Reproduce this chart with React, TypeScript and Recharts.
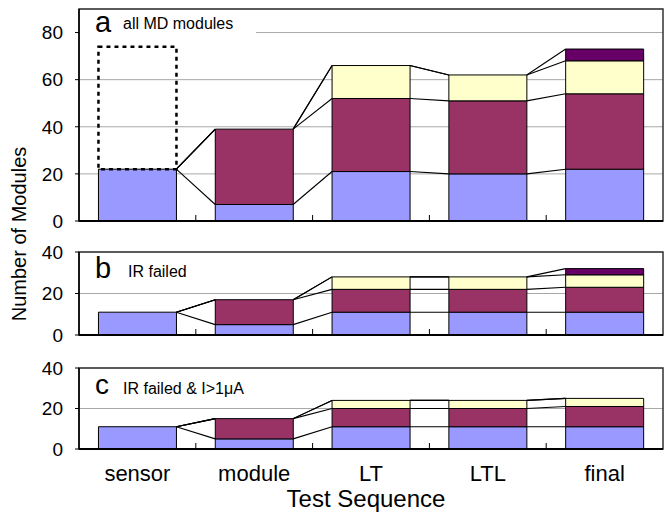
import React from 'react'
import { BarChart, Bar, XAxis, YAxis, CartesianGrid, ReferenceLine, ReferenceArea } from 'recharts'

const categories = ['sensor', 'module', 'LT', 'LTL', 'final']

// a: all MD modules
const allBlue = [22, 7, 21, 20, 22]
const allMaroon = [0, 32, 31, 31, 32]
const allYellow = [0, 0, 14, 11, 14]
const allPurple = [0, 0, 0, 0, 5]
const allPlanned = [52, 0, 0, 0, 0] // dotted box on top of sensor

// b: IR failed
const irBlue = [11, 5, 11, 11, 11]
const irMaroon = [0, 12, 11, 11, 12]
const irYellow = [0, 0, 6, 6, 6]
const irPurple = [0, 0, 0, 0, 3]

// c: IR failed & I>1uA
const curBlue = [11, 5, 11, 11, 11]
const curMaroon = [0, 10, 9, 9, 10]
const curYellow = [0, 0, 4, 4, 4]
const curPurple = [0, 0, 0, 0, 0]

const ticksA = [0, 20, 40, 60, 80]
const ticksBC = [0, 20, 40]

const COLORS = ['#9999FF', '#993366', '#FFFFCC', '#660066']
const FONT = '"Liberation Sans", Arial, Helvetica, sans-serif'
const W = 664
const GAP = 1 / 6 // bar gap on each side of a category, as a fraction of the band

interface PanelProps {
  top: number
  marginTop: number
  plotH: number
  series: number[][]
  planned?: number[]
  max: number
  ticks: number[]
  showLabels?: boolean
}

function Panel({ top, marginTop, plotH, series, planned, max, ticks, showLabels }: PanelProps) {
  const rows = categories.map((name, i) => {
    const row: Record<string, string | number> = { name, idx: i + 0.5 }
    series.forEach((s, k) => { row['s' + k] = s[i] })
    if (planned) row.planned = planned[i]
    return row
  })

  // running totals, used for the lines between neighbouring bars
  const cum = series.map((_, k) =>
    categories.map((_, i) => series.slice(0, k + 1).reduce((t, s) => t + s[i], 0))
  )
  const links: { key: string; x1: number; y1: number; x2: number; y2: number }[] = []
  cum.forEach((c, k) => {
    for (let i = 0; i < categories.length - 1; i++) {
      links.push({ key: `${k}-${i}`, x1: i + 1 - GAP, y1: c[i], x2: i + 1 + GAP, y2: c[i + 1] })
    }
  })

  const axisH = showLabels ? 60 : 2
  const bottom = showLabels ? 0 : 10
  const height = marginTop + plotH + axisH + bottom
  const tickLen = (max * 6) / plotH

  return (
    <div style={{ position: 'absolute', left: 0, top }}>
      <BarChart
        width={W}
        height={height}
        data={rows}
        margin={{ top: marginTop, right: 1, bottom, left: 0 }}
        barCategoryGap={`${GAP * 100}%`}
      >
        <CartesianGrid vertical={false} stroke="#a8a8a8" />
        <XAxis
          dataKey="name"
          interval={0}
          tickLine={false}
          tickSize={0}
          tickMargin={16}
          height={axisH}
          axisLine={{ stroke: '#000', strokeWidth: 2 }}
          tick={showLabels ? { fill: '#000', fontSize: 22 } : false}
        />
        <XAxis xAxisId="num" type="number" dataKey="idx" domain={[0, 5]} allowDataOverflow hide />
        <YAxis
          domain={[0, max]}
          ticks={ticks}
          interval={0}
          allowDataOverflow
          width={79}
          tickSize={4}
          tickMargin={12}
          tick={{ fill: '#000', fontSize: 19 }}
          tickLine={{ stroke: '#000' }}
          axisLine={{ stroke: '#000', strokeWidth: 1.5 }}
        />
        <ReferenceArea xAxisId="num" x1={0} x2={5} y1={0} y2={max} fill="none" stroke="#333" strokeWidth={1.5} />
        {series.map((_, k) => (
          <Bar
            key={k}
            dataKey={'s' + k}
            stackId="s"
            fill={COLORS[k]}
            stroke="#000"
            strokeWidth={1}
            isAnimationActive={false}
          />
        ))}
        {planned && (
          <Bar
            dataKey="planned"
            stackId="s"
            fill="none"
            stroke="#000"
            strokeWidth={2.5}
            strokeDasharray="4 4"
            isAnimationActive={false}
          />
        )}
        {links.map((l) => (
          <ReferenceLine
            key={l.key}
            xAxisId="num"
            segment={[{ x: l.x1, y: l.y1 }, { x: l.x2, y: l.y2 }]}
            stroke="#000"
            strokeWidth={1.1}
          />
        ))}
        {[1, 2, 3, 4].map((k) => (
          <ReferenceLine
            key={'t' + k}
            xAxisId="num"
            segment={[{ x: k, y: 0 }, { x: k, y: tickLen }]}
            stroke="#000"
            strokeWidth={1}
          />
        ))}
      </BarChart>
    </div>
  )
}

export default function App() {
  return (
    <div style={{ position: 'absolute', left: 0, top: 0, width: W, height: 513, fontFamily: FONT, background: '#fff' }}>
      <Panel
        top={0}
        marginTop={9}
        plotH={212}
        series={[allBlue, allMaroon, allYellow, allPurple]}
        planned={allPlanned}
        max={90}
        ticks={ticksA}
      />
      <Panel
        top={236}
        marginTop={16}
        plotH={83}
        series={[irBlue, irMaroon, irYellow, irPurple]}
        max={40}
        ticks={ticksBC}
      />
      <Panel
        top={352}
        marginTop={16}
        plotH={81}
        series={[curBlue, curMaroon, curYellow, curPurple]}
        max={40}
        ticks={ticksBC}
        showLabels
      />
      <svg
        width={W}
        height={513}
        style={{ position: 'absolute', left: 0, top: 0, pointerEvents: 'none', fontFamily: FONT }}
      >
        <rect x={80} y={27} width={176} height={12} fill="#fff" />
        <text x={95} y={32} fontSize={29}>a</text>
        <text x={123} y={29} fontSize={16}>all MD modules</text>
        <text x={95} y={278} fontSize={29}>b</text>
        <text x={128} y={277} fontSize={16}>IR failed</text>
        <text x={95} y={394} fontSize={28}>c</text>
        <text x={123} y={394} fontSize={16}>IR failed &amp; I&gt;1μA</text>
        <text transform="translate(26,234) rotate(-90)" textAnchor="middle" fontSize={20}>
          Number of Modules
        </text>
        <text x={366} y={507} textAnchor="middle" fontSize={24}>Test Sequence</text>
      </svg>
    </div>
  )
}
